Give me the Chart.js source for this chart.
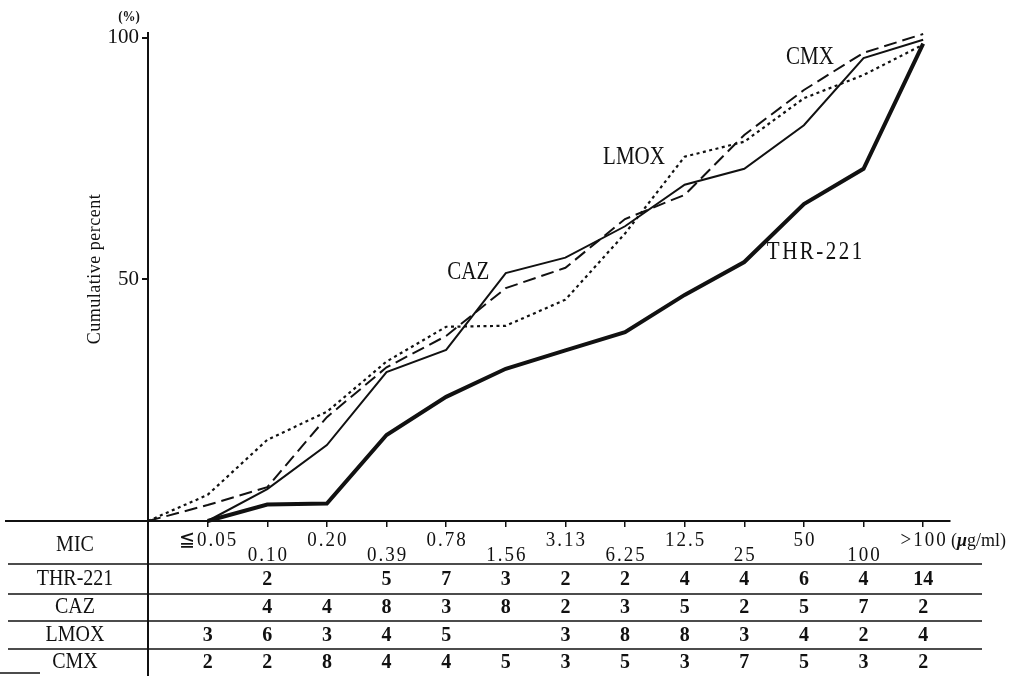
<!DOCTYPE html>
<html><head><meta charset="utf-8">
<script src="https://cdn.jsdelivr.net/npm/chart.js@4"></script>
<style>html,body{margin:0;padding:0;background:#fff;} #wrap{width:1027px;height:676px;}</style>
</head><body><div id="wrap"><canvas id="c" width="1027" height="676"></canvas></div>
<script>
// MIC columns (µg/ml)
const micLabels = ['≦0.05','0.10','0.20','0.39','0.78','1.56','3.13','6.25','12.5','25','50','100','>100'];
const rowNames = ['THR-221','CAZ','LMOX','CMX'];
// number of strains per MIC column (table)
const countsTHR  = ['', 2, '', 5, 7, 3, 2, 2, 4, 4, 6, 4, 14];
const countsCAZ  = ['', 4, 4, 8, 3, 8, 2, 3, 5, 2, 5, 7, 2];
const countsLMOX = [3, 6, 3, 4, 5, '', 3, 8, 8, 3, 4, 2, 4];
const countsCMX  = [2, 2, 8, 4, 4, 5, 3, 5, 3, 7, 5, 3, 2];
// cumulative percent; index 0 = origin, 1..13 = MIC columns
const cumTHR  = [null, 0, 3.4, 3.6, 17.8, 25.7, 31.5, 35.3, 39.1, 46.8, 53.6, 65.6, 72.9, 98.8];
const cumCAZ  = [null, 0, 6.6, 15.7, 30.8, 35.4, 51.3, 54.5, 61.0, 69.6, 72.9, 81.9, 95.8, 99.6];
const cumLMOX = [0, 5.4, 16.8, 22.6, 33.0, 40.2, 40.4, 45.8, 59.5, 75.4, 78.5, 87.5, 92.3, 98.6];
const cumCMX  = [0, 3.3, 7.0, 21.5, 31.8, 38.3, 48.2, 52.4, 62.5, 67.5, 79.9, 89.2, 96.9, 100.8];
const yTicks = [50, 100];

const toXY = arr => arr.map((v, i) => (v === null ? null : {x: i, y: v})).filter(p => p);

const INK = '#111';

function ln(ctx, x1, y1, x2, y2) { ctx.beginPath(); ctx.moveTo(x1, y1); ctx.lineTo(x2, y2); ctx.stroke(); }
// tall, slightly narrow text like the printed Mincho face
function tx(ctx, t, x, y, font, sx, sy, spacing) {
  ctx.save();
  ctx.translate(x, y);
  ctx.scale(sx, sy);
  ctx.font = font;
  ctx.letterSpacing = spacing || '0px';
  ctx.fillText(t, 0, 0);
  ctx.restore();
}

const tablePlugin = {
  id: 'micTable',
  afterDraw(chart) {
    const {ctx, chartArea: a, scales: {x, y}} = chart;
    ctx.save();
    ctx.strokeStyle = INK;
    ctx.lineWidth = 2;
    ln(ctx, 5, a.bottom, a.left, a.bottom);
    ln(ctx, a.left, a.bottom, a.left, 676);
    ctx.lineWidth = 1.5;
    [564, 594, 621, 649].forEach(ly => ln(ctx, 8, ly, 982, ly));
    ln(ctx, 0, 673, 40, 673);

    ctx.fillStyle = INK;
    ctx.textAlign = 'center';
    ctx.textBaseline = 'middle';
    const lab = '20px "Liberation Serif"';
    tx(ctx, 'MIC', 75, 545, lab, 1, 1.15);
    const rowY = [579, 607, 635, 662];
    rowNames.forEach((n, r) => tx(ctx, n, 75, rowY[r], lab, 1, 1.15));

    const num = 'bold 20px "Liberation Serif"';
    [countsTHR, countsCAZ, countsLMOX, countsCMX].forEach((row, r) =>
      row.forEach((v, i) => { if (v !== '') tx(ctx, String(v), x.getPixelForValue(i + 1), rowY[r], num, 1, 1.1); }));

    const mic = '19px "Liberation Serif"';
    micLabels.forEach((m, i) => tx(ctx, m, x.getPixelForValue(i + 1) + 1, i % 2 === 0 ? 541 : 556, mic, 1, 1.1, '2px'));
    // unit
    ctx.textAlign = 'left';
    let ux = 951;
    ctx.font = '18px "Liberation Serif"';
    tx(ctx, '(', ux, 541, ctx.font, 1, 1.1); ux += ctx.measureText('(').width;
    ctx.font = 'italic bold 18px "Liberation Serif"';
    tx(ctx, 'μ', ux, 541, ctx.font, 1, 1.1); ux += ctx.measureText('μ').width;
    tx(ctx, 'g/ml)', ux, 541, '18px "Liberation Serif"', 1, 1.1);

    // series labels
    ctx.textAlign = 'center';
    const sl = '21px "Liberation Serif"';
    tx(ctx, 'CAZ', x.getPixelForValue(5.37), y.getPixelForValue(51.5), sl, 1, 1.15);
    tx(ctx, 'LMOX', x.getPixelForValue(8.15), y.getPixelForValue(75.2), sl, 1, 1.15);
    tx(ctx, 'CMX', x.getPixelForValue(11.1), y.getPixelForValue(95.9), sl, 1, 1.15);
    tx(ctx, 'THR-221', x.getPixelForValue(11.2), y.getPixelForValue(55.5), sl, 1, 1.15, '2.5px');

    // axis title and unit
    tx(ctx, '(%)', 129, 17, 'bold 13px "Liberation Serif"', 1, 1.1);
    ctx.save();
    ctx.translate(95, 269);
    ctx.rotate(-Math.PI / 2);
    tx(ctx, 'Cumulative percent', 0, 0, '18px "Liberation Serif"', 1, 1.1, '0.5px');
    ctx.restore();
    ctx.restore();
  }
};

new Chart(document.getElementById('c'), {
  type: 'line',
  data: {
    datasets: [
      {label: 'THR-221', data: toXY(cumTHR), borderColor: INK, borderWidth: 4, pointRadius: 0, tension: 0, clip: false},
      {label: 'CAZ', data: toXY(cumCAZ), borderColor: INK, borderWidth: 2, pointRadius: 0, tension: 0, clip: false},
      {label: 'LMOX', data: toXY(cumLMOX), borderColor: INK, borderWidth: 2.2, borderDash: [3, 3.5], pointRadius: 0, tension: 0, clip: false},
      {label: 'CMX', data: toXY(cumCMX), borderColor: INK, borderWidth: 2, borderDash: [13, 6], pointRadius: 0, tension: 0, clip: false}
    ]
  },
  options: {
    responsive: false,
    animation: false,
    events: [],
    layout: {padding: {left: 0, right: 77, top: 33, bottom: 0}},
    plugins: {legend: {display: false}, tooltip: {enabled: false}},
    scales: {
      x: {
        type: 'linear', min: 0, max: 13.45,
        afterFit(s) { s.height = 155; },
        afterBuildTicks(s) { s.ticks = micLabels.map((_, i) => ({value: i + 1})); },
        grid: {display: true, drawOnChartArea: false, drawTicks: true, tickLength: 6, color: INK, lineWidth: 1.5},
        border: {display: true, color: INK, width: 2},
        ticks: {display: false}
      },
      y: {
        min: 0, max: 101,
        afterFit(s) { s.width = 148; },
        afterBuildTicks(s) { s.ticks = yTicks.map(v => ({value: v})); },
        grid: {display: true, drawOnChartArea: false, drawTicks: true, tickLength: 6, color: INK, lineWidth: 2},
        border: {display: true, color: INK, width: 2},
        ticks: {font: {family: 'Liberation Serif', size: 21}, color: INK, padding: 3}
      }
    }
  },
  plugins: [tablePlugin]
});
</script>
</body></html>
